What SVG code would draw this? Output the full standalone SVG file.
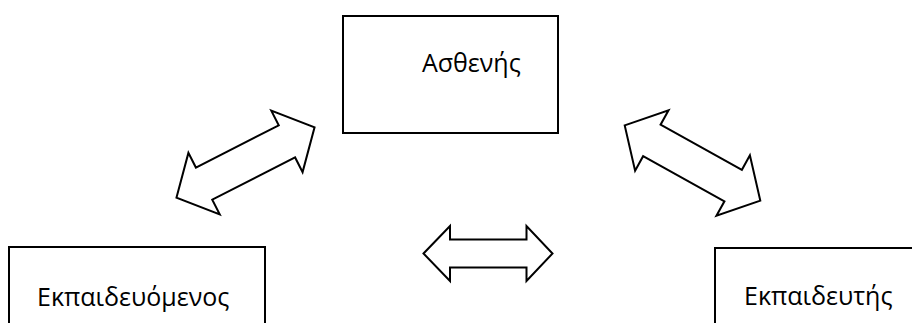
<svg xmlns="http://www.w3.org/2000/svg" width="912" height="323" viewBox="0 0 912 323">
  <defs>
    <style>
      .box { fill: #ffffff; stroke: #000000; stroke-width: 2; }
      .arrow { fill: #ffffff; stroke: #000000; stroke-width: 2; stroke-linejoin: miter; }
      .label { font-family: "Open Sans", "Noto Sans", "DejaVu Sans", sans-serif; font-size: 25px; fill: #000000; }
    </style>
    <polygon id="diagArrow" points="-77.5,0 -46.5,-34.5 -46.5,-18 46.5,-18 46.5,-34.5 77.5,0 46.5,34.5 46.5,18 -46.5,18 -46.5,34.5"/>
  </defs>
  <rect width="912" height="323" fill="#ffffff"/>

  <g id="connectors">
    <use href="#diagArrow" class="arrow" transform="translate(245.5,162.5) rotate(-27)"/>
    <use href="#diagArrow" class="arrow" transform="translate(692.5,163) rotate(29)"/>
    <polygon class="arrow" points="423.5,253.5 450,226 450,239.5 526.5,239.5 526.5,226 552.5,253.5 526.5,281 526.5,267.5 450,267.5 450,281"/>
  </g>

  <g id="node-patient">
    <rect class="box" x="343" y="16" width="215" height="117"/>
    <text class="label" x="422" y="72">Ασθενής</text>
  </g>

  <g id="node-trainee">
    <rect class="box" x="9" y="247" width="256" height="90"/>
    <text class="label" x="37" y="306">Εκπαιδευόμενος</text>
  </g>

  <g id="node-trainer">
    <rect class="box" x="715" y="248" width="210" height="90"/>
    <text class="label" x="744" y="305">Εκπαιδευτής</text>
  </g>
</svg>
